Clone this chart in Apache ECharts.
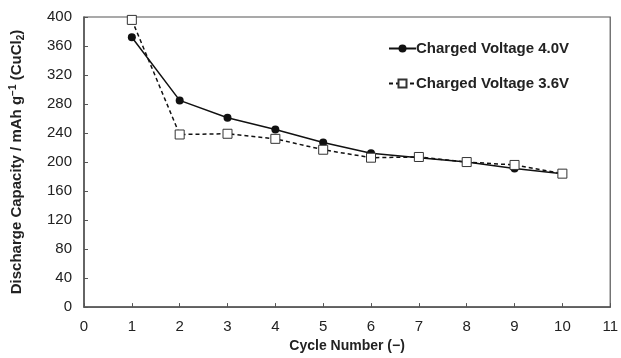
<!DOCTYPE html>
<html>
<head>
<meta charset="utf-8">
<script src="https://cdn.jsdelivr.net/npm/echarts@6/dist/echarts.min.js"></script>
<style>
  html, body { margin: 0; padding: 0; background: #fff; }
  #main { width: 621px; height: 358px; }
</style>
</head>
<body>
<div id="main"></div>
<script>
// data
var cycles = [1, 2, 3, 4, 5, 6, 7, 8, 9, 10];
var cap40 = [372, 285, 261, 245, 227, 212, 206, 200, 191, 184];
var cap36 = [396, 238, 239, 232, 217, 206, 207, 200, 196, 184];
var seriesNames = ['Charged Voltage 4.0V', 'Charged Voltage 3.6V'];

var myChart = echarts.init(document.getElementById('main'));
var font = '"Liberation Sans", Arial, sans-serif';

function pairs(vals) {
  return cycles.map(function (c, i) { return [c, vals[i]]; });
}

var option = {
  animation: false,
  grid: {
    left: 84, right: 10, top: 17, bottom: 47,
    show: true, borderColor: '#555', borderWidth: 1.2, backgroundColor: 'transparent'
  },
  legend: {
    orient: 'vertical',
    left: 388, top: 41, padding: 0,
    itemWidth: 27, itemHeight: 10, itemGap: 20,
    textStyle: { fontFamily: font, fontSize: 15, fontWeight: 'bold', color: '#222', padding: [0, 0, 0, -5] },
    data: seriesNames
  },
  xAxis: {
    type: 'value', min: 0, max: 11, interval: 1,
    name: 'Cycle Number (\u2212)', nameLocation: 'middle', nameGap: 29,
    nameTextStyle: { fontFamily: font, fontSize: 14, fontWeight: 'bold', color: '#222' },
    axisLine: { lineStyle: { color: '#555', width: 1.5 } },
    axisTick: { inside: true, length: 4, lineStyle: { color: '#555' } },
    axisLabel: { fontFamily: font, fontSize: 15, color: '#222', margin: 12 },
    splitLine: { show: false }
  },
  yAxis: {
    type: 'value', min: 0, max: 400, interval: 40,
    name: 'Discharge Capacity / mAh g{sup|\u22121} (CuCl{sub|2})',
    nameLocation: 'middle', nameGap: 58, nameRotate: 90,
    nameTextStyle: {
      fontFamily: font, fontSize: 15, fontWeight: 'bold', color: '#222',
      rich: {
        sup: { fontFamily: font, fontSize: 10, fontWeight: 'bold', color: '#222', verticalAlign: 'top', padding: [0, 0, 8, 0] },
        sub: { fontFamily: font, fontSize: 10, fontWeight: 'bold', color: '#222', verticalAlign: 'bottom', padding: [6, 0, 0, 0] }
      }
    },
    axisLine: { show: true, lineStyle: { color: '#555', width: 1.5 } },
    axisTick: { show: true, inside: true, length: 4, lineStyle: { color: '#555' } },
    axisLabel: { fontFamily: font, fontSize: 15, color: '#222', margin: 12 },
    splitLine: { show: false }
  },
  series: [
    {
      name: seriesNames[0],
      type: 'line',
      data: pairs(cap40),
      symbol: 'circle', symbolSize: 8,
      itemStyle: { color: '#111' },
      lineStyle: { color: '#111', width: 1.5 }
    },
    {
      name: seriesNames[1],
      type: 'line',
      data: pairs(cap36),
      symbol: 'rect', symbolSize: 9,
      itemStyle: { color: '#fff', borderColor: '#333', borderWidth: 1 },
      lineStyle: { color: '#111', width: 1.5, type: [4, 3] }
    }
  ]
};

myChart.setOption(option);
</script>
</body>
</html>
